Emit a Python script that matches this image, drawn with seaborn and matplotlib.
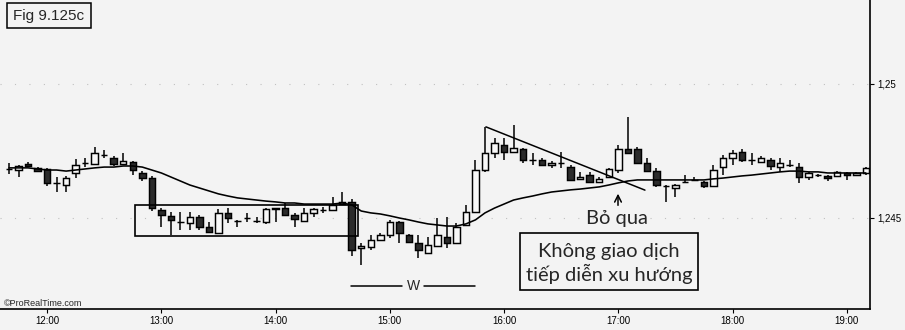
import matplotlib
matplotlib.use('Agg')
import matplotlib.pyplot as plt
from matplotlib.patches import Rectangle
import seaborn as sns
import numpy as np
import pandas as pd

# 5 minute bars, first bar at 11:40
bar_times = pd.date_range("2000-01-01 11:40", periods=91, freq="5min")

opens = [1.24683, 1.24679, 1.24702, 1.24687, 1.24683, 1.24631, 1.24623, 1.24668, 1.24705, 1.24702,
         1.24735, 1.24724, 1.24702, 1.24709, 1.24668, 1.24649, 1.24530, 1.24508, 1.24485, 1.24481,
         1.24504, 1.24466, 1.24444, 1.24519, 1.24489, 1.24500, 1.24489, 1.24485, 1.24534, 1.24537,
         1.24511, 1.24489, 1.24519, 1.24530, 1.24530, 1.24552, 1.24560, 1.24388, 1.24392, 1.24418,
         1.24437, 1.24485, 1.24437, 1.24407, 1.24369, 1.24396, 1.24429, 1.24407, 1.24474, 1.24522,
         1.24679, 1.24743, 1.24772, 1.24746, 1.24757, 1.24716, 1.24716, 1.24698, 1.24705, 1.24690,
         1.24646, 1.24660, 1.24634, 1.24653, 1.24679, 1.24757, 1.24757, 1.24705, 1.24675, 1.24619,
         1.24612, 1.24634, 1.24642, 1.24634, 1.24619, 1.24690, 1.24724, 1.24746, 1.24716, 1.24709,
         1.24716, 1.24690, 1.24698, 1.24690, 1.24653, 1.24660, 1.24657, 1.24657, 1.24668, 1.24660,
         1.24668]
highs = [1.24705, 1.24698, 1.24709, 1.24690, 1.24687, 1.24653, 1.24657, 1.24720, 1.24724, 1.24765,
         1.24754, 1.24731, 1.24743, 1.24713, 1.24675, 1.24657, 1.24537, 1.24522, 1.24522, 1.24522,
         1.24511, 1.24485, 1.24534, 1.24537, 1.24493, 1.24519, 1.24504, 1.24537, 1.24537, 1.24556,
         1.24519, 1.24537, 1.24537, 1.24541, 1.24578, 1.24597, 1.24571, 1.24407, 1.24437, 1.24444,
         1.24493, 1.24489, 1.24440, 1.24437, 1.24429, 1.24500, 1.24504, 1.24481, 1.24549, 1.24716,
         1.24840, 1.24799, 1.24799, 1.24847, 1.24761, 1.24743, 1.24724, 1.24713, 1.24746, 1.24698,
         1.24672, 1.24672, 1.24653, 1.24687, 1.24772, 1.24877, 1.24765, 1.24724, 1.24687, 1.24623,
         1.24627, 1.24660, 1.24653, 1.24638, 1.24698, 1.24735, 1.24754, 1.24757, 1.24743, 1.24731,
         1.24724, 1.24724, 1.24716, 1.24705, 1.24672, 1.24664, 1.24660, 1.24675, 1.24672, 1.24672,
         1.24690]
lows = [1.24664, 1.24653, 1.24690, 1.24672, 1.24619, 1.24597, 1.24597, 1.24649, 1.24690, 1.24698,
        1.24724, 1.24694, 1.24698, 1.24660, 1.24638, 1.24526, 1.24466, 1.24437, 1.24455, 1.24455,
        1.24455, 1.24444, 1.24440, 1.24481, 1.24466, 1.24485, 1.24481, 1.24478, 1.24485, 1.24508,
        1.24466, 1.24485, 1.24504, 1.24519, 1.24526, 1.24549, 1.24358, 1.24325, 1.24381, 1.24414,
        1.24425, 1.24407, 1.24407, 1.24351, 1.24366, 1.24392, 1.24388, 1.24403, 1.24470, 1.24519,
        1.24672, 1.24724, 1.24716, 1.24743, 1.24705, 1.24698, 1.24694, 1.24687, 1.24687, 1.24638,
        1.24642, 1.24631, 1.24631, 1.24649, 1.24668, 1.24739, 1.24702, 1.24672, 1.24616, 1.24560,
        1.24578, 1.24631, 1.24638, 1.24612, 1.24616, 1.24660, 1.24698, 1.24709, 1.24698, 1.24705,
        1.24679, 1.24672, 1.24690, 1.24631, 1.24642, 1.24653, 1.24638, 1.24653, 1.24642, 1.24657,
        1.24660]
closes = [1.24683, 1.24694, 1.24694, 1.24675, 1.24631, 1.24631, 1.24649, 1.24698, 1.24705, 1.24743,
          1.24735, 1.24702, 1.24713, 1.24679, 1.24649, 1.24537, 1.24511, 1.24493, 1.24485, 1.24504,
          1.24466, 1.24448, 1.24519, 1.24500, 1.24489, 1.24500, 1.24489, 1.24534, 1.24537, 1.24511,
          1.24496, 1.24519, 1.24534, 1.24530, 1.24549, 1.24560, 1.24381, 1.24396, 1.24418, 1.24437,
          1.24485, 1.24444, 1.24411, 1.24381, 1.24399, 1.24437, 1.24407, 1.24466, 1.24522, 1.24679,
          1.24743, 1.24780, 1.24746, 1.24761, 1.24716, 1.24716, 1.24698, 1.24705, 1.24705, 1.24642,
          1.24653, 1.24634, 1.24646, 1.24683, 1.24757, 1.24743, 1.24705, 1.24675, 1.24623, 1.24619,
          1.24623, 1.24634, 1.24642, 1.24619, 1.24679, 1.24724, 1.24743, 1.24716, 1.24716, 1.24724,
          1.24694, 1.24705, 1.24698, 1.24653, 1.24668, 1.24660, 1.24649, 1.24672, 1.24660, 1.24668,
          1.24687]
# moving average
ma = [1.24687, 1.24687, 1.24687, 1.24683, 1.24679, 1.24679, 1.24675, 1.24679, 1.24683, 1.24687,
      1.24690, 1.24690, 1.24694, 1.24694, 1.24690, 1.24679, 1.24668, 1.24653, 1.24638, 1.24623,
      1.24612, 1.24601, 1.24590, 1.24582, 1.24575, 1.24571, 1.24567, 1.24563, 1.24560, 1.24556,
      1.24556, 1.24552, 1.24552, 1.24552, 1.24552, 1.24556, 1.24549, 1.24526, 1.24519, 1.24515,
      1.24508, 1.24500, 1.24493, 1.24485, 1.24478, 1.24474, 1.24470, 1.24470, 1.24478, 1.24493,
      1.24519, 1.24537, 1.24552, 1.24567, 1.24575, 1.24582, 1.24590, 1.24597, 1.24601, 1.24605,
      1.24608, 1.24612, 1.24616, 1.24623, 1.24631, 1.24638, 1.24642, 1.24642, 1.24642, 1.24642,
      1.24642, 1.24642, 1.24642, 1.24642, 1.24646, 1.24649, 1.24653, 1.24657, 1.24660, 1.24664,
      1.24668, 1.24672, 1.24675, 1.24675, 1.24672, 1.24672, 1.24668, 1.24668, 1.24668, 1.24668,
      1.24668]
y_ticks = [1.245, 1.25]
y_labels = ["1,245", "1,25"]

sns.set_theme(style="white")
plt.rcParams['font.family'] = ['Liberation Sans', 'DejaVu Sans']
BG = '#f3f3f3'

df = pd.DataFrame({"t": bar_times, "open": opens, "high": highs, "low": lows,
                   "close": closes, "ma": ma})
df["i"] = np.arange(len(df))

fig = plt.figure(figsize=(9.05, 3.3), dpi=100, facecolor=BG)
ax = fig.add_axes([0, 21 / 330, 870 / 905, 309 / 330])
ax.set_facecolor(BG)

# faint dotted grid
for yv in y_ticks:
    ax.axhline(yv, color='#c0c0c0', lw=0.8, ls=(0, (1, 12)), zorder=0)

# wicks
ax.vlines(df["i"], df["low"], df["high"], color='black', lw=1.1, zorder=2)
# bodies
up = df["close"] >= df["open"]
body_lo = np.minimum(df["open"], df["close"])
body_h = np.maximum((df["close"] - df["open"]).abs(), 0.000012)
ax.bar(df["i"], body_h, bottom=body_lo, width=0.68,
       color=np.where(up, '#f8f8f8', '#2b2b2b'), edgecolor='black', lw=1.05, zorder=3)

sns.lineplot(data=df, x="i", y="ma", ax=ax, color='black', lw=1.15, zorder=4)

ax.set_xlim(-0.945, 90.44)
ax.set_ylim(1.241604, 1.253134)
hour_idx = df.index[df["t"].dt.minute == 0]
ax.set_xticks(hour_idx)
ax.set_xticklabels(df.loc[hour_idx, "t"].dt.strftime("%H:%M"), fontsize=7)
ax.set_yticks(y_ticks)
ax.set_yticklabels(y_labels, fontsize=7)
ax.yaxis.tick_right()
ax.tick_params(axis='both', direction='out', length=3, width=0.8, pad=2,
               bottom=True, right=True, left=False, colors='black')
ax.set_xlabel("")
ax.set_ylabel("")
for s in ['left', 'top']:
    ax.spines[s].set_visible(False)
for s in ['right', 'bottom']:
    ax.spines[s].set_color('black')
    ax.spines[s].set_linewidth(1.2)

# annotations
ax.add_patch(Rectangle((13.24, 1.24433), 36.66 - 13.24, 1.24549 - 1.24433,
                       fill=False, ec='black', lw=1.2, zorder=5))
ax.plot([50.1, 66.8], [1.24840, 1.24604], color='black', lw=1.1, zorder=5)
ax.annotate("", xy=(63.97, 1.24601), xytext=(63.97, 1.24537),
            arrowprops=dict(arrowstyle='->', color='black', lw=1.1))
ax.plot([35.9, 41.3], [1.24246, 1.24246], color='black', lw=1.1)
ax.plot([43.6, 49.0], [1.24246, 1.24246], color='black', lw=1.1)
ax.text(42.45, 1.24246, "W", ha='center', va='center', fontsize=10)

viet = ['Lato', 'DejaVu Sans']


def px(x, y):
    return x / 905, 1 - y / 330


fig.text(*px(617, 224), "Bỏ qua", ha='center', va='baseline', fontsize=14.5, family=viet)
fig.add_artist(Rectangle(px(520, 290), 178 / 905, 57 / 330, transform=fig.transFigure,
                         fill=False, ec='black', lw=1.2))
fig.text(*px(609, 257), "Không giao dịch", ha='center', va='baseline', fontsize=14.5, family=viet)
fig.text(*px(609, 281), "tiếp diễn xu hướng", ha='center', va='baseline', fontsize=14.5, family=viet)

fig.add_artist(Rectangle(px(7, 28), 84 / 905, 25 / 330, transform=fig.transFigure,
                         fill=False, ec='black', lw=1.1))
fig.text(*px(49, 16), "Fig 9.125c", ha='center', va='center', fontsize=11)
fig.text(*px(4, 306), "©ProRealTime.com", ha='left', va='baseline', fontsize=6.5)

fig.savefig("out.png", dpi=100, facecolor=BG)
